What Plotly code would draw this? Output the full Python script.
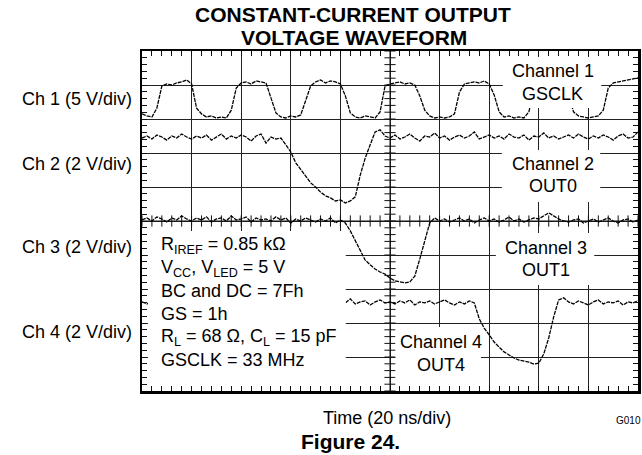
import plotly.graph_objects as go

# ---------------- data (screen divisions, 0..10 from left / bottom) ----------------
time_div = [round(0.1 * i, 1) for i in range(101)]   # 20 ns/div time base samples

ch1_gsclk = [
    8.15, 8.09, 8.06, 8.32, 8.97, 9.03, 9.00, 9.06, 9.09, 9.15,
    9.03, 8.32, 8.15, 8.06, 8.09, 8.03, 8.06, 8.03, 8.26, 8.91,
    9.06, 9.09, 9.03, 9.12, 9.09, 9.06, 8.62, 8.18, 8.06, 8.03,
    8.09, 8.06, 8.12, 8.56, 8.97, 9.09, 9.15, 9.06, 9.12, 9.09,
    9.03, 8.68, 8.18, 8.06, 8.03, 8.09, 8.06, 8.03, 8.21, 8.97,
    9.03, 9.06, 9.09, 9.03, 9.06, 9.00, 8.68, 8.26, 8.09, 8.03,
    8.06, 8.03, 8.06, 8.15, 8.79, 9.03, 9.06, 9.09, 9.06, 9.12,
    9.03, 8.71, 8.21, 8.06, 8.09, 8.03, 8.06, 8.03, 8.21, 8.85,
    9.03, 9.06, 9.09, 9.03, 9.09, 9.06, 8.71, 8.21, 8.09, 8.06,
    8.03, 8.06, 8.09, 8.26, 8.91, 9.06, 9.09, 9.12, 9.15, 9.18,
    9.21,
]

ch2_out0 = [
    7.44, 7.50, 7.41, 7.53, 7.47, 7.38, 7.50, 7.44, 7.56, 7.47,
    7.41, 7.50, 7.44, 7.53, 7.38, 7.47, 7.56, 7.41, 7.50, 7.44,
    7.53, 7.47, 7.35, 7.50, 7.56, 7.29, 7.47, 7.41, 7.44, 7.24,
    7.03, 6.71, 6.53, 6.32, 6.12, 6.00, 5.85, 5.74, 5.68, 5.59,
    5.62, 5.53, 5.59, 5.71, 6.35, 6.85, 7.24, 7.62, 7.68, 7.50,
    7.44, 7.53, 7.41, 7.47, 7.56, 7.44, 7.35, 7.50, 7.47, 7.59,
    7.44, 7.50, 7.38, 7.47, 7.53, 7.44, 7.50, 7.62, 7.41, 7.47,
    7.53, 7.44, 7.50, 7.41, 7.56, 7.47, 7.44, 7.53, 7.38, 7.50,
    7.47, 7.59, 7.44, 7.50, 7.41, 7.47, 7.53, 7.44, 7.56, 7.47,
    7.41, 7.50, 7.44, 7.53, 7.47, 7.38, 7.50, 7.56, 7.44, 7.47,
    7.62,
]

ch3_out1 = [
    5.03, 5.09, 5.00, 5.12, 5.06, 4.97, 5.09, 5.03, 5.15, 5.06,
    5.00, 5.09, 5.03, 5.12, 4.97, 5.06, 5.09, 5.00, 5.15, 5.03,
    5.06, 5.12, 4.97, 5.09, 5.03, 5.06, 5.00, 5.12, 5.03, 5.09,
    4.94, 5.06, 5.00, 5.09, 5.03, 4.97, 5.06, 5.00, 5.09, 4.94,
    5.03, 4.94, 4.71, 4.41, 4.12, 3.85, 3.71, 3.59, 3.50, 3.44,
    3.32, 3.24, 3.21, 3.18, 3.21, 3.38, 3.88, 4.41, 4.94, 5.09,
    5.00, 5.06, 4.97, 5.03, 5.09, 5.00, 5.06, 4.94, 5.03, 5.09,
    5.00, 5.06, 4.97, 5.03, 5.12, 5.00, 5.06, 4.97, 5.03, 5.09,
    5.06, 5.15, 5.24, 5.15, 5.06, 5.00, 4.97, 5.03, 5.06, 4.94,
    5.00, 5.06, 4.97, 5.03, 5.09, 5.00, 4.94, 5.03, 5.06, 4.97,
    5.03,
]

ch4_out4 = [
    2.62, 2.56, 2.68, 2.59, 2.65, 2.53, 2.62, 2.68, 2.56, 2.62,
    2.65, 2.59, 2.71, 2.56, 2.62, 2.68, 2.53, 2.62, 2.59, 2.65,
    2.56, 2.68, 2.62, 2.59, 2.65, 2.53, 2.62, 2.71, 2.59, 2.62,
    2.68, 2.56, 2.62, 2.65, 2.59, 2.53, 2.68, 2.62, 2.56, 2.65,
    2.62, 2.59, 2.71, 2.56, 2.62, 2.65, 2.53, 2.62, 2.68, 2.59,
    2.62, 2.56, 2.65, 2.59, 2.68, 2.53, 2.62, 2.59, 2.65, 2.56,
    2.62, 2.68, 2.59, 2.53, 2.62, 2.56, 2.65, 2.59, 2.12, 1.85,
    1.65, 1.44, 1.29, 1.15, 1.06, 0.97, 0.91, 0.88, 0.85, 0.79,
    0.82, 1.09, 1.56, 2.18, 2.68, 2.74, 2.62, 2.56, 2.65, 2.59,
    2.53, 2.62, 2.68, 2.56, 2.62, 2.59, 2.65, 2.53, 2.62, 2.59,
    2.65,
]

channel_axis_labels = ["Ch 1 (5 V/div)", "Ch 2 (2 V/div)", "Ch 3 (2 V/div)", "Ch 4 (2 V/div)"]
channel_names = [("Channel 1", "GSCLK"), ("Channel 2", "OUT0"), ("Channel 3", "OUT1"), ("Channel 4", "OUT4")]
conditions = [
    "R<sub>IREF</sub> = 0.85 kΩ",
    "V<sub>CC</sub>, V<sub>LED</sub> = 5 V",
    "BC and DC = 7Fh",
    "GS = 1h",
    "R<sub>L</sub> = 68 Ω, C<sub>L</sub> = 15 pF",
    "GSCLK = 33 MHz",
]
title_lines = ["CONSTANT-CURRENT OUTPUT", "VOLTAGE WAVEFORM"]
x_title = "Time (20 ns/div)"
figure_caption = "Figure 24."
graph_id = "G010"

# ---------------- layout geometry (pixels) ----------------
W, H = 642, 455
L, R, T, B = 142, 1, 51, 64
PW, PH = W - L - R, H - T - B
FONT = "Liberation Sans, Arial, sans-serif"
INK = "#111111"


def px(xp):
    return (xp - L) / PW


def py(yp):
    return (T + PH - yp) / PH


def dx(xp):
    return (xp - L) / PW * 10


def dy(yp):
    return (T + PH - yp) / PH * 10


fig = go.Figure()

# centre cross-hair with its minor ticks
minor = [round(0.2 * i, 1) for i in range(51)]
fig.add_trace(go.Scatter(x=[0, 10], y=[5, 5], mode="lines", line=dict(color=INK, width=1), hoverinfo="skip"))
fig.add_trace(go.Scatter(x=[5, 5], y=[0, 10], mode="lines", line=dict(color=INK, width=1), hoverinfo="skip"))
fig.add_trace(go.Scatter(x=minor, y=[5] * len(minor), mode="markers", hoverinfo="skip",
                         marker=dict(symbol="line-ns", size=8, line=dict(color=INK, width=1))))
fig.add_trace(go.Scatter(x=[5] * len(minor), y=minor, mode="markers", hoverinfo="skip",
                         marker=dict(symbol="line-ew", size=8, line=dict(color=INK, width=1))))

for series in (ch1_gsclk, ch2_out0, ch3_out1, ch4_out4):
    fig.add_trace(go.Scatter(x=time_div, y=series, mode="lines",
                             line=dict(color="#000000", width=1.3, dash="4px,1px"), hoverinfo="skip"))

# white label boxes covering grid and traces (pixel rectangles)
boxes = [
    (505, 57, 604, 108),
    (504, 150, 603, 202),
    (498, 233, 597, 285),
    (397, 327, 483, 386),
    (148, 231, 347, 386),
]
shapes = []
for x0, y0, x1, y1 in boxes:
    shapes.append(dict(type="rect", xref="x", yref="y", x0=dx(x0), x1=dx(x1), y0=dy(y1), y1=dy(y0),
                       fillcolor="white", line=dict(width=0), layer="above"))

ann = []


def text(x, y, s, size=18, bold=False, xanchor="center"):
    ann.append(dict(xref="paper", yref="paper", x=px(x), y=py(y), text=("<b>%s</b>" % s) if bold else s,
                    showarrow=False, xanchor=xanchor, yanchor="middle",
                    font=dict(family=FONT, size=size, color="black")))


text(354, 15, title_lines[0], size=21, bold=True)
text(355, 38, title_lines[1], size=21, bold=True)
for lab, yc in zip(channel_axis_labels, [99, 164, 247, 332]):
    text(19, yc, lab, xanchor="left")
name_pos = [(555, 71, 94), (555, 164, 186), (548, 248, 270), (443, 342, 365)]
for (n1, n2), (xc, y1, y2) in zip(channel_names, name_pos):
    text(xc, y1, n1)
    text(xc, y2, n2)
for s, yc in zip(conditions, [245, 268, 291, 314, 337, 360]):
    text(159, yc, s, xanchor="left")
text(388, 418, x_title)
text(352, 441, figure_caption, size=21, bold=True)
text(617, 421, graph_id, size=10, xanchor="left")

axis_common = dict(range=[0, 10], dtick=1, tick0=0, showgrid=True, gridcolor="#222222", gridwidth=1,
                   zeroline=False, showticklabels=False, ticks="inside", ticklen=5, tickcolor=INK,
                   tickwidth=1, showline=True, linecolor="black", linewidth=2.5, mirror="ticks",
                   fixedrange=True,
                   minor=dict(dtick=0.2, tick0=0, ticks="inside", ticklen=5, tickcolor=INK, tickwidth=1,
                              showgrid=False))

fig.update_layout(
    width=W, height=H, margin=dict(l=L, r=R, t=T, b=B, pad=0),
    paper_bgcolor="white", plot_bgcolor="white", showlegend=False,
    xaxis=axis_common, yaxis=axis_common,
    shapes=shapes, annotations=ann,
)

fig.write_html("out.html", config={"staticPlot": True},
               post_script="document.body.style.margin='0';document.body.style.overflow='hidden';")
